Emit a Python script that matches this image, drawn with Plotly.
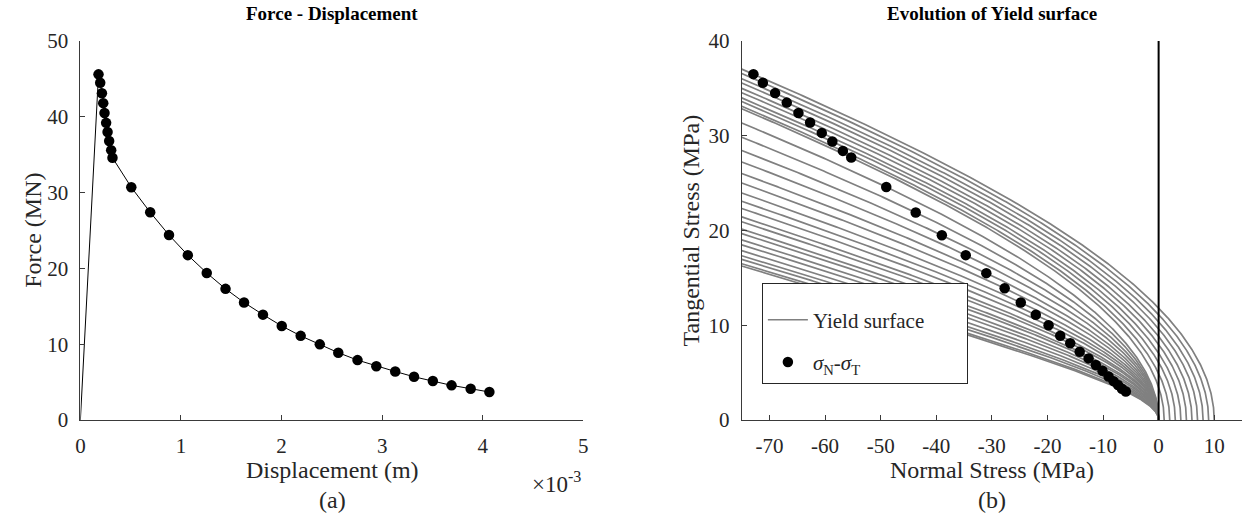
import numpy as np
import plotly.graph_objects as go

# ---------------- data: (a) Force - Displacement ----------------
# displacement in units of 1e-3 m, force in MN
displacement_e3 = [0.180, 0.197, 0.214, 0.227, 0.240, 0.256, 0.270, 0.286, 0.306, 0.319,
                   0.506, 0.694, 0.881, 1.068, 1.256, 1.443, 1.627, 1.815, 2.002, 2.190,
                   2.380, 2.564, 2.755, 2.942, 3.130, 3.317, 3.504, 3.690, 3.880, 4.066]
force_MN = [45.6, 44.5, 43.1, 41.8, 40.5, 39.2, 38.0, 36.8, 35.6, 34.6,
            30.7, 27.4, 24.4, 21.75, 19.4, 17.3, 15.5, 13.9, 12.4, 11.1,
            9.98, 8.88, 7.9, 7.1, 6.4, 5.7, 5.14, 4.57, 4.13, 3.69]

# ---------------- data: (b) Evolution of yield surface ----------------
sigma_N = [-72.9, -71.2, -69.0, -66.9, -64.8, -62.7, -60.6, -58.7, -56.8, -55.3,
           -49.0, -43.7, -39.0, -34.7, -31.0, -27.7, -24.8, -22.1, -19.8, -17.7,
           -15.9, -14.2, -12.6, -11.3, -10.1, -9.0, -8.1, -7.3, -6.6, -5.9]
sigma_T = [36.5, 35.6, 34.5, 33.5, 32.4, 31.4, 30.3, 29.4, 28.4, 27.7,
           24.6, 21.9, 19.5, 17.4, 15.5, 13.9, 12.4, 11.1, 10.0, 8.9,
           8.1, 7.2, 6.5, 5.8, 5.2, 4.6, 4.1, 3.7, 3.3, 3.0]
tensile_strength = [10, 9, 8, 7, 6, 5, 4, 3, 2, 1] + [0] * 20
friction_coef = 0.17   # tan(phi) of the hyperbolic yield surface

# tick labels
left_x_ticks = [0, 1, 2, 3, 4, 5]
left_y_ticks = [0, 10, 20, 30, 40, 50]
right_x_ticks = [-70, -60, -50, -40, -30, -20, -10, 0, 10]
right_y_ticks = [0, 10, 20, 30, 40]

FONT = "Liberation Serif, Times New Roman, serif"
GRAY = "#808080"
AX = "#3a3a3a"
TXT = "#262626"
NB = "\u00a0"

fig = go.Figure()

# (a) line from origin through the points, then markers
fig.add_trace(go.Scatter(x=[0] + displacement_e3, y=[0] + force_MN, mode="lines",
                         line=dict(color="black", width=1), showlegend=False,
                         xaxis="x", yaxis="y", hoverinfo="skip"))
fig.add_trace(go.Scatter(x=displacement_e3, y=force_MN, mode="markers",
                         marker=dict(color="black", size=10.5), showlegend=False,
                         xaxis="x", yaxis="y"))

# (b) yield surfaces: hyperbolic Mohr-Coulomb, each passing through its stress state
t = friction_coef
s_lo = -75.0
for k, (sn, st, chi) in enumerate(zip(sigma_N, sigma_T, tensile_strength)):
    c = 0.5 * (st ** 2 / (t * (chi - sn)) + t * (sn + chi))
    u = np.linspace(0, 1, 300)
    sig = chi - (chi - s_lo) * u ** 2
    tau = np.sqrt(np.clip((c - sig * t) ** 2 - (c - chi * t) ** 2, 0, None))
    fig.add_trace(go.Scatter(x=sig, y=tau, mode="lines",
                             line=dict(color=GRAY, width=1.7),
                             name="Yield surface" + NB * 7, legendgroup="ys",
                             showlegend=(k == 0), xaxis="x2", yaxis="y2",
                             hoverinfo="skip"))

fig.add_trace(go.Scatter(x=sigma_N, y=sigma_T, mode="markers",
                         marker=dict(color="black", size=10.5),
                         name="<i>σ</i><sub>N</sub>-<i>σ</i><sub>T</sub>",
                         legendgroup="pts", xaxis="x2", yaxis="y2"))

W, H = 1247, 518
ML, MR, MT, MB = 0, 0, 41, 98
PW, PH = W - ML - MR, H - MT - MB

def fx(xp):
    return (xp - ML) / PW

def fy(yp):
    return (H - MB - yp) / PH

axis_common = dict(showline=True, linecolor=AX, linewidth=1, ticks="inside",
                   ticklen=5, tickcolor=AX, showgrid=False, zeroline=False,
                   tickfont=dict(family=FONT, size=21, color=TXT),
                   mirror=False, ticklabelstandoff=7)

fig.update_layout(
    width=W, height=H, margin=dict(l=ML, r=MR, t=MT, b=MB),
    paper_bgcolor="white", plot_bgcolor="white",
    font=dict(family=FONT, color=TXT),
    xaxis=dict(domain=[fx(76), fx(583)], range=[0, 5], tickvals=left_x_ticks,
               ticktext=[str(v) for v in left_x_ticks], anchor="y", **axis_common),
    yaxis=dict(domain=[0, 1], range=[0, 50], tickvals=left_y_ticks,
               ticktext=[str(v) for v in left_y_ticks], anchor="x", **axis_common),
    xaxis2=dict(domain=[fx(742.7), 1.0], range=[-75, 15], tickvals=right_x_ticks,
                ticktext=[str(v) for v in right_x_ticks], anchor="y2", **axis_common),
    yaxis2=dict(domain=[0, 1], range=[0, 40], tickvals=right_y_ticks,
                ticktext=[str(v) for v in right_y_ticks], anchor="x2", **axis_common),
    legend=dict(x=fx(763), y=fy(283), xanchor="left", yanchor="top",
                bgcolor="white", bordercolor=TXT, borderwidth=1,
                font=dict(family=FONT, size=21, color=TXT),
                title=dict(text=" ", font=dict(size=12)),
                itemwidth=40, traceorder="grouped", tracegroupgap=12),
    shapes=[dict(type="line", xref="x2", yref="y2 domain", x0=0, x1=0, y0=0, y1=1,
                 line=dict(color="black", width=2))],
)

def ann(text, x, y, size, bold=False, angle=0):
    return dict(text=f"<b>{text}</b>" if bold else text, x=fx(x), y=fy(y),
                xref="paper", yref="paper", showarrow=False, textangle=angle,
                font=dict(family=FONT, size=size, color="black" if bold else TXT),
                xanchor="center", yanchor="middle")

fig.update_layout(annotations=[
    ann("Force - Displacement", 330, 14, 19, bold=True),
    ann("Evolution of Yield surface", 995, 14, 19, bold=True),
    ann("Displacement (m)", 330, 470, 24),
    ann("(a)", 330, 500, 24),
    ann("×10<sup>-3</sup>", 556, 482, 23),
    ann("Force (MN)", 28, 230, 24, angle=-90),
    ann("Normal Stress (MPa)", 995, 470, 24),
    ann("(b)", 995, 500, 24),
    ann("Tangential Stress (MPa)", 692, 230, 24, angle=-90),
])

fig.write_html("out.html", config={"displayModeBar": False},
               post_script="document.body.style.margin='0';document.body.style.overflow='hidden';")
